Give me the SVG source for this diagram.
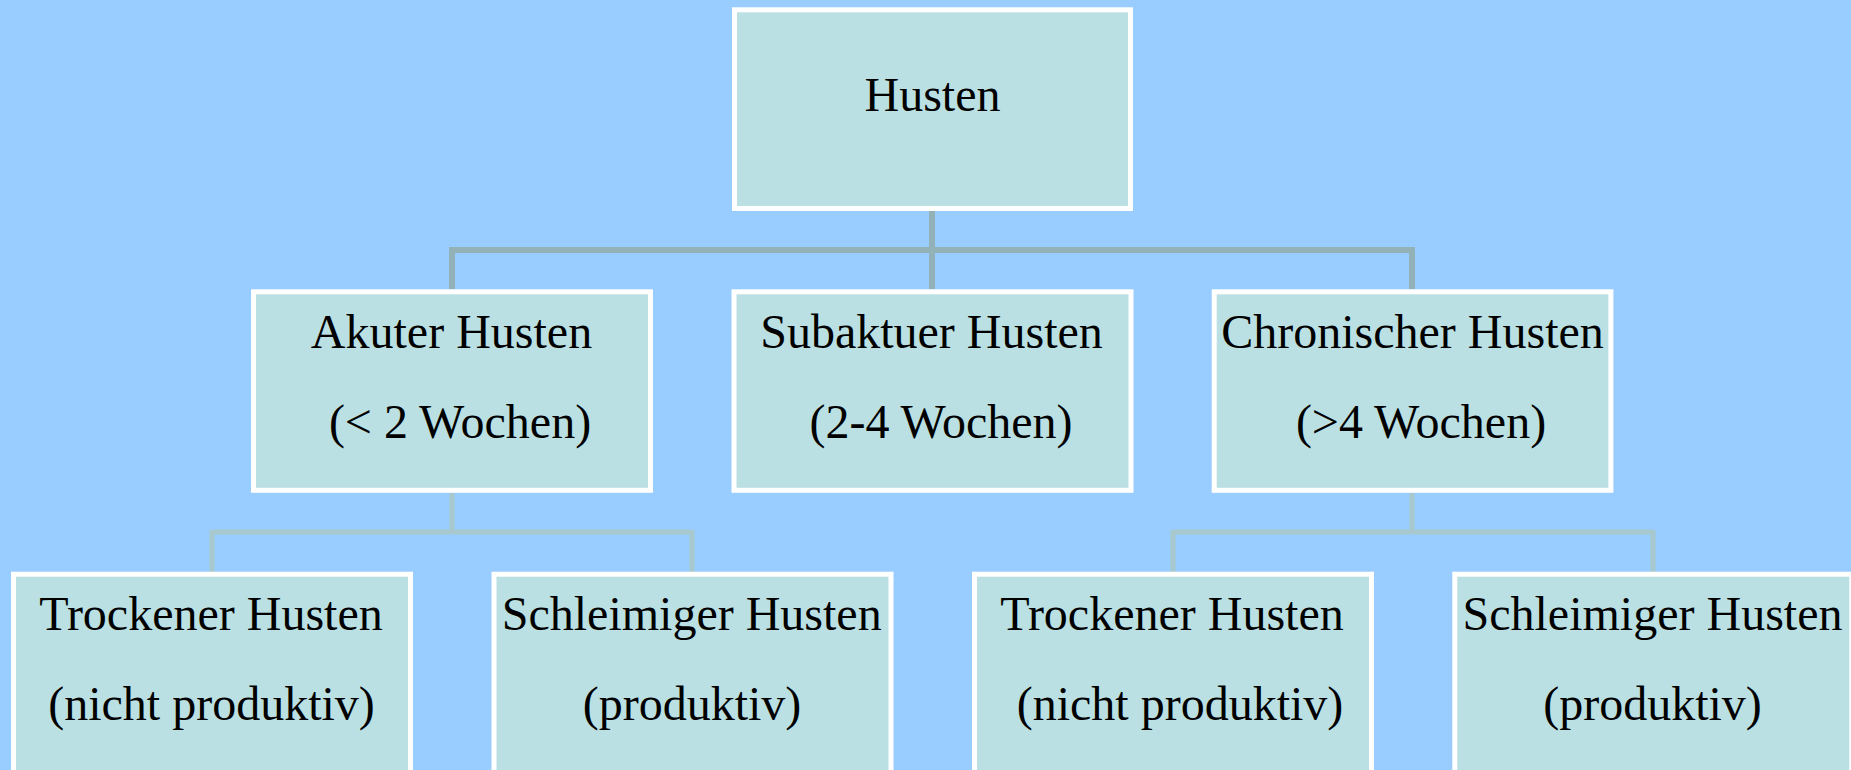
<svg xmlns="http://www.w3.org/2000/svg" width="1851" height="770" viewBox="0 0 1851 770">
<style>
.box{fill:#BAE0E3;stroke:#FFFFFF;stroke-width:5}
.t{font-family:"Liberation Serif","DejaVu Serif",serif;font-size:48px;fill:#000;text-anchor:middle}
.c1{stroke:#93B2B8;stroke-width:6;fill:none}
.c2{stroke:#A7C8CC;stroke-width:5;fill:none}
</style>
<rect width="1851" height="770" fill="#99CCFF"/>
<g id="connectors">
<path class="c1" d="M932,211 V289 M452,250 H1412 M452,247 V289 M1412,247 V289"/>
<path class="c2" d="M452,493 V532 M212,532 H692 M212,530 V572 M692,530 V572"/>
<path class="c2" d="M1412,493 V532 M1173,532 H1653 M1173,530 V572 M1653,530 V572"/>
</g>
<g id="n-husten"><rect class="box" x="734.5" y="9.8" width="396" height="198.7"/><text class="t" x="932.5" y="111">Husten</text></g>
<g id="n-akut"><rect class="box" x="253.5" y="291.8" width="397" height="198.5"/><text class="t" x="451.5" y="348">Akuter Husten</text><text class="t" x="460" y="438">(&lt; 2 Wochen)</text></g>
<g id="n-subakut"><rect class="box" x="734" y="291.8" width="397" height="198.5"/><text class="t" x="931.5" y="348">Subaktuer Husten</text><text class="t" x="941" y="438">(2-4 Wochen)</text></g>
<g id="n-chronisch"><rect class="box" x="1214.2" y="291.8" width="396.7" height="198.5"/><text class="t" x="1412.5" y="348">Chronischer Husten</text><text class="t" x="1421" y="438">(&gt;4 Wochen)</text></g>
<g id="n-trocken1"><rect class="box" x="13.5" y="574.2" width="397" height="220"/><text class="t" x="211" y="630">Trockener Husten</text><text class="t" x="211.5" y="720">(nicht produktiv)</text></g>
<g id="n-schleim1"><rect class="box" x="494" y="574.2" width="397" height="220"/><text class="t" x="691.7" y="630">Schleimiger Husten</text><text class="t" x="692" y="720">(produktiv)</text></g>
<g id="n-trocken2"><rect class="box" x="974.5" y="574.2" width="397" height="220"/><text class="t" x="1172" y="630">Trockener Husten</text><text class="t" x="1180" y="720">(nicht produktiv)</text></g>
<g id="n-schleim2"><rect class="box" x="1454.8" y="574.2" width="397" height="220"/><text class="t" x="1652.5" y="630">Schleimiger Husten</text><text class="t" x="1652.5" y="720">(produktiv)</text></g>
</svg>
